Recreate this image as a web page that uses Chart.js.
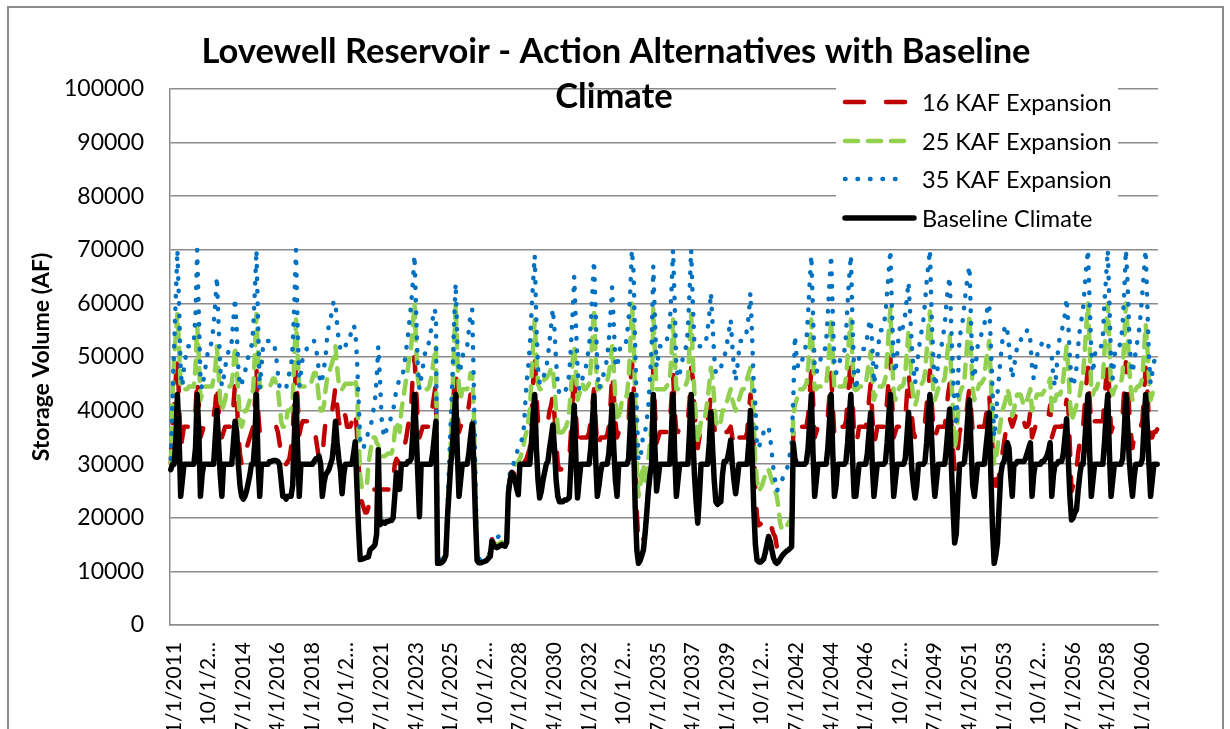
<!DOCTYPE html>
<html><head><meta charset="utf-8">
<script src="https://cdn.jsdelivr.net/npm/chart.js@4.4.1/dist/chart.umd.min.js"></script>
<style>html,body{margin:0;padding:0;background:#fff}canvas{display:block}</style>
</head><body>
<canvas id="c" width="1230" height="729"></canvas>
<script>
// ---------- DATA ----------
const firstYear = 2011;
const lastYear = 2060;
const tickEvery = 21; // one label every 21 months
const tickLabels = ['1/1/2011','10/1/2…','7/1/2014','4/1/2016','1/1/2018','10/1/2…','7/1/2021','4/1/2023','1/1/2025','10/1/2…',
  '7/1/2028','4/1/2030','1/1/2032','10/1/2…','7/1/2035','4/1/2037','1/1/2039','10/1/2…','7/1/2042','4/1/2044',
  '1/1/2046','10/1/2…','7/1/2049','4/1/2051','1/1/2053','10/1/2…','7/1/2056','4/1/2058','1/1/2060'];
const seriesNames = ['16 KAF Expansion','25 KAF Expansion','35 KAF Expansion','Baseline Climate'];

const baseline = [
/*2011*/29000,30000,30000,34000,43000,35000,24000,27000,30000,30000,30000,30000,
/*2012*/30000,30000,30000,33000,43000,36000,24000,28000,30000,30000,30000,30000,
/*2013*/30000,30000,30000,35000,40000,34000,28000,24000,30000,30000,30000,30000,
/*2014*/30000,30000,34000,38000,36000,30000,26000,24000,23500,24000,25000,26500,
/*2015*/28000,30000,30000,34000,43000,30000,24000,30000,30000,30000,30000,30000,
/*2016*/30500,30500,30700,30700,30700,30500,30000,27000,24000,24000,23500,24000,
/*2017*/24000,24000,26000,35000,43000,33000,24000,30000,30000,30000,30000,30000,
/*2018*/30000,30000,30000,30500,31000,31000,31500,30000,24000,26500,28000,28500,
/*2019*/29000,30000,31000,34000,38000,34000,31000,29000,24500,28000,30000,30000,
/*2020*/30000,30000,30000,32000,34200,26000,18000,12200,12300,12400,12500,12600,
/*2021*/12700,14000,14300,14600,15000,17000,32700,18700,19000,19200,19000,19300,
/*2022*/19300,19500,19500,20000,24000,28400,27000,25300,30000,30000,30000,30000,
/*2023*/30500,30500,31000,36000,43000,36000,28000,20200,30000,30000,30000,30000,
/*2024*/30000,30000,30000,32000,35000,38000,11500,11500,11600,11800,12200,13000,
/*2025*/20000,25000,30000,33000,38000,43000,32000,24000,27000,30000,30000,30000,
/*2026*/30000,32000,35000,37500,30000,20000,12000,11600,11600,11700,11800,11900,
/*2027*/12100,12500,12800,15600,15000,14600,14400,14600,14800,15000,14800,14700,
/*2028*/15500,24600,27000,28400,28000,27000,25500,24300,30000,30000,30000,30000,
/*2029*/30000,30000,30000,34000,39000,43000,33000,27000,23700,25000,27000,28500,
/*2030*/30000,30500,33000,35000,37300,33000,27000,24000,23000,23000,23000,23300,
/*2031*/23300,23500,23800,30000,36000,41000,31000,23700,27000,30000,30000,30000,
/*2032*/30000,30000,30000,33000,38000,42800,31000,24000,26000,28500,30000,30000,
/*2033*/30000,30000,32000,36000,41000,33000,27000,24000,30000,30000,30000,30000,
/*2034*/30000,30000,31000,37000,43000,35000,22000,14000,11500,12000,13000,14000,
/*2035*/17000,20800,25000,28000,30000,43000,33000,25000,27500,30000,30000,30000,
/*2036*/30000,30000,30000,30000,36000,43000,32000,24000,27000,30000,30000,30000,
/*2037*/30000,30000,30000,36000,43000,35000,28000,23000,19000,24000,30000,30000,
/*2038*/30000,30000,30000,34000,39700,33000,27000,23000,22500,22800,23000,28000,
/*2039*/30500,30500,31000,32500,34500,30000,27000,24500,27000,30000,30000,30000,
/*2040*/30000,30000,30000,34000,40000,32000,22000,15000,12100,11800,11700,12000,
/*2041*/12300,13500,15000,16500,15500,14000,12500,11800,11500,11800,12300,12800,
/*2042*/13200,13500,13800,14000,14300,14600,33900,31000,30000,30000,30000,30000,
/*2043*/30000,30000,30500,33000,38000,43000,32000,24000,27000,30000,30000,30000,
/*2044*/30000,30000,30000,33000,38000,43000,32000,24000,26000,30000,30000,30000,
/*2045*/30000,30000,30500,34000,39000,43000,31000,24000,24000,27000,30000,30000,
/*2046*/30000,30000,30000,32000,36000,39600,30000,24000,27000,30000,30000,30000,
/*2047*/30000,30000,30500,34000,39000,43000,31000,24000,27000,30000,30000,30000,
/*2048*/30000,30000,31000,35000,39700,35000,29000,26000,23700,26000,30000,30000,
/*2049*/30000,30000,30500,34000,39000,43000,35000,28000,24000,27000,30000,30000,
/*2050*/30000,30000,30000,33000,37000,40300,30000,22000,15300,17000,24000,30000,
/*2051*/30000,30000,30500,34000,39000,42000,33000,26000,24000,27000,30000,30000,
/*2052*/30000,30000,30000,33000,36000,39600,28000,18000,11500,13000,15300,22000,
/*2053*/28000,30000,30500,32000,34000,33000,28000,24000,30000,30000,30500,30500,
/*2054*/30500,30500,30500,31000,32000,33000,34000,24000,28000,30000,30000,30000,
/*2055*/30000,30500,30500,31000,31500,32500,34000,24000,28000,30000,30000,30500,
/*2056*/30500,30500,32000,35000,38500,31000,24000,19600,20000,21000,21500,25000,
/*2057*/28000,30000,30000,34000,39000,43000,32000,24000,27000,30000,30000,30000,
/*2058*/30000,30000,30000,34000,39000,43000,32000,24000,27000,30000,30000,30000,
/*2059*/30000,30000,31000,36000,43000,38000,31000,27000,24000,27500,30000,30000,
/*2060*/30000,30000,31000,37000,43000,37000,30000,24000,27000,30000,30000,30000
];

const kaf16 = [
/*2011*/30000,37000,42000,46000,50000,42000,33000,35000,37000,37000,37000,37000,
/*2012*/37000,37000,37000,40000,46000,41000,35000,36000,37000,37000,37000,37000,
/*2013*/37000,37000,39000,41000,45000,40000,37000,35000,36000,37000,37000,37000,
/*2014*/37000,38000,41000,45000,42000,36000,32000,30000,31000,33000,33000,34000,
/*2015*/35000,36000,37000,41000,48000,40000,36000,37000,37000,37000,37000,37000,
/*2016*/37000,37000,37000,37000,37000,36000,34000,32000,30000,30000,30000,30500,
/*2017*/31000,33000,36000,42000,48000,42000,35500,37000,38000,38000,38000,38000,
/*2018*/38000,38000,38000,37000,35000,33000,31000,30600,31000,35000,38000,38000,
/*2019*/38000,38000,40000,42000,44500,41000,38000,37000,37000,39600,39000,37000,
/*2020*/37000,37000,38000,39600,40000,36000,30000,24000,23000,22000,21000,21000,
/*2021*/22000,25300,25300,25300,25300,25300,26000,25300,25300,25300,25300,25300,
/*2022*/25300,25300,25300,27000,30000,31000,30500,30000,32000,33000,33500,35000,
/*2023*/37000,39000,41000,47000,50000,44000,38000,35000,36000,37000,37000,37000,
/*2024*/37000,37000,38000,41000,43000,45000,12000,11800,11900,12100,12500,13300,
/*2025*/20500,26000,32000,38000,44000,48000,40000,36000,37000,38000,39000,39000,
/*2026*/39000,41000,43000,43000,35000,22000,12300,11900,11900,12000,12100,12200,
/*2027*/12400,12800,13200,16000,15400,15000,14800,15000,15200,15400,15200,15100,
/*2028*/15800,24800,27200,28600,28400,28000,27500,28000,30000,30000,30000,30500,
/*2029*/31000,32000,33000,38000,45000,51000,43000,38000,37000,37000,37000,37000,
/*2030*/37000,38000,40000,41000,43000,39000,35000,30000,29000,29000,29500,30000,
/*2031*/30000,30500,31000,36000,42000,47000,40000,33000,34000,35000,35000,35000,
/*2032*/35000,35000,36000,38000,41000,44000,38000,33000,34000,35000,35000,35000,
/*2033*/35000,35500,37000,41000,47000,43000,38000,35000,36000,36000,36000,36000,
/*2034*/36000,36500,38000,44000,49000,46000,32000,21000,15000,15000,15500,16000,
/*2035*/17000,20800,25000,28500,32000,48000,40000,34000,35000,36000,36000,36000,
/*2036*/36000,36000,36000,37000,42000,47000,40000,36000,36000,37000,37000,37000,
/*2037*/37000,37000,38000,42000,48000,46000,40000,36000,33000,35000,37000,37000,
/*2038*/37000,37000,38000,40000,43000,41000,37000,35000,35000,35000,35000,36000,
/*2039*/36000,36000,36000,36500,37000,35000,34000,33000,34000,35000,35000,35000,
/*2040*/35000,35000,36000,40000,43000,40000,33000,25000,20200,18600,18800,19000,
/*2041*/19500,20000,20000,20000,19000,18000,17000,16500,14600,15000,15500,16000,
/*2042*/16000,16000,16200,16500,16800,17000,36000,38000,37000,37000,37000,37000,
/*2043*/37000,37000,37000,39000,43000,48000,42000,35000,36000,37000,37000,37000,
/*2044*/37000,37000,37000,39000,43000,47000,41000,35000,36000,37000,37000,37000,
/*2045*/37000,37000,38000,42000,46000,50000,42000,35000,34000,35000,37000,37000,
/*2046*/37000,37000,37000,39000,42000,45000,39000,34000,35000,37000,37000,37000,
/*2047*/37000,37000,38000,42000,46000,50000,42000,35000,36000,37000,37000,37000,
/*2048*/37000,37000,38000,43000,47000,44000,39000,36000,35000,36000,37000,37000,
/*2049*/37000,37000,38000,41000,44000,47500,42000,37000,35000,36000,37000,37000,
/*2050*/37000,37000,37000,40000,43000,45000,38000,33000,29000,30000,33000,36000,
/*2051*/37000,37000,37500,39000,42000,44000,40000,36000,35000,36000,37000,37000,
/*2052*/37000,37000,37000,39000,41000,43000,38000,33000,28000,26000,26000,28000,
/*2053*/30000,32000,34000,36000,38000,39000,38000,37000,38000,39000,40000,40000,
/*2054*/40000,39000,38000,37000,37000,37500,40000,35000,36000,37000,37000,37000,
/*2055*/37000,37000,37000,37500,38000,39000,41000,35000,36000,37000,37000,37000,
/*2056*/37000,37000,38000,40000,42000,41000,33000,25000,26000,27500,29000,32000,
/*2057*/34000,36000,37000,41000,45000,48000,42000,37000,37000,38000,38000,38000,
/*2058*/38000,38000,38000,42000,46000,49000,43000,36000,37000,38000,38000,38000,
/*2059*/38000,38000,39000,44000,49000,46000,40000,36000,33000,35000,37000,37000,
/*2060*/37000,37000,38000,43000,48000,44000,38000,35000,35000,36000,36000,36500
];

const kaf25 = [
/*2011*/30000,42000,50000,54000,58000,52000,44000,44000,44000,44000,44000,44500,
/*2012*/44500,44500,44500,48000,56000,50000,42000,43000,44000,44500,44500,44500,
/*2013*/44500,44500,46000,48000,52000,47000,42000,40000,41000,42000,44000,44500,
/*2014*/44500,45000,48000,52000,48000,43000,38000,37000,38000,40000,40000,41000,
/*2015*/42000,43000,44000,50000,58000,50000,44500,44500,44500,44500,44500,44500,
/*2016*/44500,45000,46000,46000,45000,44000,41000,38000,37000,37000,38000,40000,
/*2017*/40000,40000,42000,50000,57000,50000,44500,44500,44500,44500,44500,44500,
/*2018*/44500,45000,46000,47000,47000,45000,42000,40000,40000,41000,44000,46000,
/*2019*/47000,48000,49000,50000,52000,48000,45000,44000,44000,44500,45000,45000,
/*2020*/45000,45000,45000,45500,46000,44000,36000,28000,25600,25600,25600,25800,
/*2021*/30000,32000,34000,35000,35000,34000,33500,32000,31500,31500,31500,31800,
/*2022*/32000,32000,32000,33000,36000,38000,37000,36000,40000,42000,44000,46000,
/*2023*/48000,50000,52000,56000,60000,52000,46000,44000,44000,44000,44000,44000,
/*2024*/44000,44500,46000,48000,50000,52000,12500,12000,12000,12200,12700,13500,
/*2025*/21000,27000,34000,42000,52000,60000,50000,44000,42000,44000,44000,44000,
/*2026*/44000,45000,47000,47000,40000,25000,12500,12000,12000,12100,12200,12300,
/*2027*/12500,12900,13300,16000,15500,15100,14900,15100,15300,15500,15300,15200,
/*2028*/16000,25000,27500,29000,29500,30000,30000,30500,31000,32000,33000,35000,
/*2029*/36000,38000,40000,46000,52000,57000,50000,45000,44000,44000,45000,46000,
/*2030*/46000,46500,47000,48000,48000,44000,40000,37000,35000,36000,36000,36500,
/*2031*/37000,38000,40000,44000,49000,52000,47000,42000,43000,44000,45000,44000,
/*2032*/44000,44500,45000,48000,54000,59000,50000,44000,44000,44500,44500,45000,
/*2033*/45000,45500,47000,49000,52000,48000,42000,38000,39000,40000,42000,42000,
/*2034*/42000,43000,46000,52000,60000,55000,42000,30000,24000,26000,28000,30000,
/*2035*/26000,28000,31000,34000,38000,59000,50000,44000,44000,44000,44000,44000,
/*2036*/44000,44500,45000,46000,50000,57000,50000,44000,44000,44500,44500,44500,
/*2037*/44500,45000,46000,52000,58000,50000,43000,38000,34000,36000,38000,38000,
/*2038*/38000,40000,42000,45000,48000,46000,42000,38000,37000,37000,38000,40000,
/*2039*/40000,41000,42000,43000,44000,42000,41000,40000,41000,42000,43000,44000,
/*2040*/44000,45000,46000,47000,48000,45000,38000,30000,27000,25000,25500,26000,
/*2041*/27000,28000,29000,29000,28000,27000,26000,25000,24000,22000,19000,18000,
/*2042*/17700,18000,18500,19000,19500,20000,39000,41000,42000,43000,44000,44000,
/*2043*/44000,44500,45000,48000,52000,57000,50000,44000,44000,44500,44500,44500,
/*2044*/44500,44500,45000,48000,52000,57000,50000,44000,44000,44500,44500,44500,
/*2045*/44500,44500,46000,50000,54000,57000,49000,44000,43800,44000,44500,44500,
/*2046*/44500,44500,45000,47000,49000,51000,46000,42000,43000,44000,44500,44500,
/*2047*/44500,45000,46000,50000,55000,59000,50000,43000,42000,43000,44000,44500,
/*2048*/44500,45000,47000,51000,55000,50000,45000,42000,41000,42000,44000,45000,
/*2049*/45000,45500,47000,51000,55000,58500,50000,44000,42000,43000,44000,45000,
/*2050*/45000,45500,46000,49000,52000,54000,46000,40000,33000,35000,39000,43000,
/*2051*/44000,44500,46000,50000,54000,58000,50000,44000,42000,43000,44000,45000,
/*2052*/45000,45500,46000,49000,51000,53000,46000,38000,30000,31000,33000,36000,
/*2053*/38000,40000,41000,42000,44000,43000,41000,39000,40000,42000,43000,43000,
/*2054*/43000,42000,41000,41000,42000,43000,44000,40000,41000,42000,43000,43000,
/*2055*/43000,43000,43500,44000,44500,45000,46000,40000,41000,42000,43000,43000,
/*2056*/43000,44000,46000,49000,52000,48000,42000,38000,39000,40000,41000,42000,
/*2057*/43000,45000,47000,51000,56000,60000,52000,44000,43000,44000,44000,45000,
/*2058*/45000,45000,46000,51000,56000,60000,52000,44000,43000,44000,44500,45000,
/*2059*/45000,45000,47000,53000,60000,55000,48000,44000,42000,43000,44000,44500,
/*2060*/44500,45000,46000,51000,56000,52000,46000,42000,43000,44000,44000,44500
];

const kaf35 = [
/*2011*/31000,42000,52000,61000,70000,60000,47000,44500,48000,50000,52000,52000,
/*2012*/52000,52000,53000,58000,70000,58000,46000,44000,46000,48000,50000,52000,
/*2013*/52000,53000,56000,60000,65000,56000,48000,44500,46000,48000,50000,51000,
/*2014*/51000,53000,57000,61000,55000,48000,44500,45000,46000,47000,49000,50000,
/*2015*/51000,52000,55000,62000,70000,56000,44000,48000,52000,53000,53000,53000,
/*2016*/53000,53000,53000,52000,50000,47000,44500,44000,43800,43800,44000,46000,
/*2017*/47000,48000,52000,60000,70000,56000,44500,47000,49600,50000,51000,52000,
/*2018*/52000,52500,53000,53000,52000,50000,47000,45000,46000,48000,50000,54000,
/*2019*/56000,57000,59000,60500,60000,56000,53000,51500,51000,51500,52000,53000,
/*2020*/53000,54000,55000,56000,55000,50000,42000,34500,33000,33000,34000,35000,
/*2021*/36000,37000,38000,40000,42000,46000,52000,46000,38500,36000,35000,36500,
/*2022*/37000,38000,39000,40000,42000,44000,45000,46000,46000,47000,49000,51500,
/*2023*/54000,57000,60000,64000,69000,58000,48000,44000,46000,48000,50000,52000,
/*2024*/52000,53000,55000,57000,59000,58000,12500,12200,12200,12500,13000,14000,
/*2025*/22000,30000,38000,46000,56000,63800,53000,47000,48000,50000,51000,51000,
/*2026*/52000,55000,58000,59000,45000,28000,13000,12300,12300,12400,12500,12600,
/*2027*/12800,13200,13600,16500,16200,16000,16200,16500,16800,17000,16500,16200,
/*2028*/16500,26000,28500,30000,30000,31000,32000,33000,34000,34500,35000,40000,
/*2029*/45000,48000,52000,58000,64000,69000,56000,48000,45000,45000,46000,47000,
/*2030*/48000,50000,53000,56000,59000,55000,49000,45000,43000,43000,43000,43500,
/*2031*/44000,45000,47000,52000,58000,65000,56000,48000,44000,45000,46000,47000,
/*2032*/48000,50000,52000,56000,62000,68000,58000,48000,44000,45000,46000,47000,
/*2033*/48000,50000,53000,58000,63000,56000,49000,48000,50000,52000,52000,52000,
/*2034*/52000,54000,57000,62000,70000,66000,52000,40000,30600,31000,33000,36000,
/*2035*/36000,38000,41000,46000,52000,67000,57000,48000,50000,52000,52000,52000,
/*2036*/52000,53000,54000,56000,62000,70000,60000,48000,46000,47000,48000,50000,
/*2037*/51000,52000,55000,62000,70000,60000,52000,52000,52000,52000,52000,52000,
/*2038*/52000,53000,55000,58000,62000,56000,50000,47000,47000,47000,48000,49000,
/*2039*/50000,51000,53000,55000,57000,52000,48000,45500,48000,51000,53000,53000,
/*2040*/53000,54000,55000,58000,62000,54000,45000,41000,33000,33000,34000,35000,
/*2041*/36000,36500,37000,37000,35000,32000,29000,27000,25000,25500,26000,27000,
/*2042*/27600,28000,29000,30000,32000,34000,42000,54000,50000,48000,48000,49000,
/*2043*/50000,51000,53000,58000,64000,69000,58000,48000,47000,48000,49000,50000,
/*2044*/50000,51000,53000,58000,64000,69000,58000,48000,47000,48000,49000,50000,
/*2045*/50000,51000,54000,60000,65000,69000,56000,47000,43800,46000,50000,51500,
/*2046*/51500,51500,52000,54000,56000,57000,52000,45000,47000,50000,53000,55000,
/*2047*/55000,56000,58000,62000,66000,70000,58000,49000,47000,50000,54000,56000,
/*2048*/55000,56000,58000,61000,64000,58000,52000,48000,45000,48000,51000,53000,
/*2049*/55000,57000,60000,64000,67000,70000,58000,50000,44500,46000,49000,51500,
/*2050*/52000,54000,56000,60000,63000,65000,55000,47000,41000,37000,45000,54000,
/*2051*/55000,57000,60000,63000,65000,67000,56000,47000,46000,49000,52000,53000,
/*2052*/54000,55000,56000,58000,59000,60000,52000,44000,35000,38000,43000,46500,
/*2053*/50000,53000,55000,56000,55000,52000,48500,46000,48000,50000,52000,53000,
/*2054*/53000,54000,54000,54000,55000,55000,53000,48000,46000,48000,50000,52000,
/*2055*/52000,52500,53000,53000,53000,52000,51000,50000,46000,44500,48000,52000,
/*2056*/54000,55000,56000,58000,61000,56000,50000,45000,44500,46000,48000,52000,
/*2057*/55000,57000,59000,63000,67000,70000,60000,51000,47000,50000,52000,52000,
/*2058*/52000,52000,54000,60000,65000,70000,60000,49000,46000,50000,52000,52000,
/*2059*/52000,53000,56000,62000,70000,64000,55000,49000,47000,49000,51000,53000,
/*2060*/55000,58000,62000,66000,70000,60000,50000,45000,47000,49000,50000,51000
];

// monthly categories 1/1/2011 ... 12/1/2060
const categories = [];
for (let y = firstYear; y <= lastYear; y++) for (let m = 1; m <= 12; m++) categories.push(m + '/1/' + y);

// ---------- STYLE ----------
const FONT = 'Lato, "Open Sans", sans-serif';
const colors = ['#C00000', '#92D050', '#0070C0', '#000000'];
const dashes = [[19, 22], [13, 10], [0.5, 12], []];
const widths = [4.5, 4.5, 4.5, 5.5];

const framePlugin = {
  id: 'frame',
  beforeDraw(chart) {
    const c = chart.ctx;
    c.save();
    c.fillStyle = '#fff';
    c.fillRect(0, 0, chart.width, chart.height);
    c.strokeStyle = '#8c8c8c';
    c.lineWidth = 2;
    c.strokeRect(8, 7, 1215, 800);
    c.restore();
  }
};

const titleLegendPlugin = {
  id: 'titleLegend',
  afterDraw(chart) {
    const c = chart.ctx;
    c.save();
    // title
    c.fillStyle = '#000';
    c.font = 'bold 34.5px ' + FONT;
    c.textAlign = 'center';
    c.textBaseline = 'alphabetic';
    c.fillText('Lovewell Reservoir - Action Alternatives with Baseline', 616, 63);
    c.fillText('Climate', 614, 108);
    // legend
    c.fillStyle = '#fff';
    c.fillRect(836, 84, 282, 152);
    const rowY = [102, 141, 179, 218];
    seriesNames.forEach((name, i) => {
      const y = rowY[i];
      c.beginPath();
      c.strokeStyle = colors[i];
      c.lineWidth = widths[i];
      c.lineCap = 'round';
      c.setLineDash(dashes[i]);
      const x0 = 845, x1 = (i === 3 ? 914 : 907);
      c.moveTo(x0, y);
      c.lineTo(x1, y);
      c.stroke();
      c.setLineDash([]);
      c.fillStyle = '#000';
      c.font = '23.5px ' + FONT;
      c.textAlign = 'left';
      c.textBaseline = 'middle';
      c.fillText(name, 922, y + 1);
    });
    c.restore();
  }
};

const seriesData = [kaf16, kaf25, kaf35, baseline];
const orders = [3, 2, 1, 0];

new Chart(document.getElementById('c').getContext('2d'), {
  type: 'line',
  data: {
    labels: categories,
    datasets: seriesData.map((d, i) => ({
      label: seriesNames[i],
      data: d,
      borderColor: colors[i],
      backgroundColor: colors[i],
      borderWidth: widths[i],
      borderDash: dashes[i],
      borderCapStyle: 'round',
      borderJoinStyle: 'round',
      pointRadius: 0,
      tension: 0,
      fill: false,
      order: orders[i]
    }))
  },
  options: {
    responsive: false,
    animation: false,
    devicePixelRatio: 1,
    layout: { padding: { top: 89, right: 72, left: 0, bottom: 0 } },
    plugins: { legend: { display: false }, title: { display: false }, tooltip: { enabled: false } },
    scales: {
      x: {
        offset: true,
        grid: { display: false, drawTicks: false },
        border: { display: true, color: '#8c8c8c', width: 1.5 },
        ticks: {
          autoSkip: false, maxRotation: 90, minRotation: 90,
          font: { family: FONT, size: 21 }, color: '#000', padding: 17, labelOffset: 3,
          callback: (v, i) => (i % tickEvery === 0 ? tickLabels[i / tickEvery] : '')
        },
        afterFit: (s) => { s.height = 104; }
      },
      y: {
        min: 0, max: 100000,
        ticks: { stepSize: 10000, font: { family: FONT, size: 23 }, color: '#000', padding: 26,
                 callback: (v) => String(v) },
        grid: { color: '#8c8c8c', lineWidth: 1.5, drawTicks: false },
        border: { display: true, color: '#8c8c8c', width: 1.5 },
        title: { display: true, text: 'Storage Volume (AF)', color: '#000',
                 font: { family: FONT, size: 23, weight: 'bold' }, padding: { top: 28, bottom: 0 } },
        afterFit: (s) => { s.width = 170; }
      }
    }
  },
  plugins: [framePlugin, titleLegendPlugin]
});
</script>
</body></html>
